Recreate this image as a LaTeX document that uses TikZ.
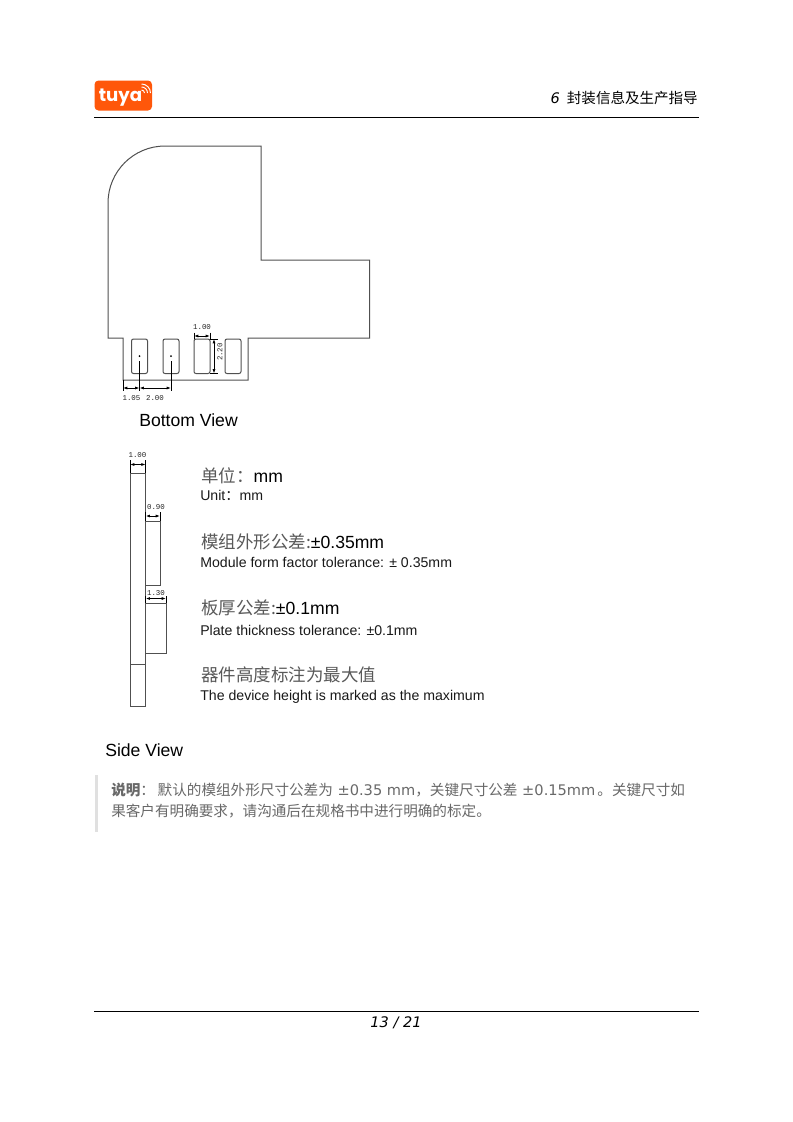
\documentclass[tikz,border=0pt]{standalone}
\usepackage{fontspec}
\setmainfont{DejaVu Sans}
\newfontfamily\cjk{Noto Sans CJK SC}
\newfontfamily\arialfont{Liberation Sans}
\newfontfamily\dimfont{Liberation Mono}
\newfontfamily\logofont{Poppins}
\definecolor{TuyaOrange}{RGB}{255, 87, 10}
\definecolor{NoteGray}{RGB}{105, 105, 105}
\definecolor{BarGray}{RGB}{224, 224, 224}
\definecolor{PartGray}{RGB}{80, 80, 80}
\usetikzlibrary{arrows.meta, positioning}

\begin{document}
\begin{tikzpicture}[x=0.75pt, y=-0.75pt,
        outline/.style={draw=PartGray, line width=0.75pt, line join=miter},
        pad/.style={draw=PartGray, line width=0.75pt, rounded corners=1.5pt},
        dimline/.style={{Latex[length=3.2pt,width=2.2pt]}-{Latex[length=3.2pt,width=2.2pt]}, line width=0.6pt},
        extline/.style={line width=0.6pt},
        dimtext/.style={font=\dimfont\fontsize{5.6}{6}\selectfont, inner sep=0pt, text=black!85},
        viewtext/.style={anchor=base west, inner sep=0pt, font=\arialfont\fontsize{13.2}{15}\selectfont, text=black},
        cntext/.style={anchor=base west, inner sep=0pt, font=\fontsize{13.1}{15}\selectfont, text=black!65},
        entext/.style={anchor=base west, inner sep=0pt, font=\arialfont\fontsize{10.6}{12}\selectfont, text=black!90},
        notetext/.style={anchor=base west, inner sep=0pt, font=\fontsize{10.95}{13}\selectfont, text=NoteGray}
    ]
        \useasboundingbox (0,0) rectangle (793,1122);
        \fill[white] (0,0) rectangle (793,1122);
        % header
        \fill[TuyaOrange, rounded corners=3pt] (94.5,80.5) rectangle (152,110.5);
        \node[anchor=base, inner sep=0pt, text=white, font=\logofont\bfseries\fontsize{13.6}{15}\selectfont] (logo) at (120.5,101) {tuya};
        \foreach \r in {3,6,9}
            \draw[white, line width=0.7pt] (141.5,93-\r) arc[start angle=90, end angle=0, x radius=\r, y radius=-\r];
        \draw[line width=0.75pt] (94,117.5) -- (699,117.5);
        \node[anchor=base east, inner sep=0pt, font=\fontsize{10.9}{13}\selectfont] (chapter) at (698,103) {\itshape 6\,\ {\upshape\cjk 封装信息及生产指导}};
        % bottom view
        \draw[outline] (108,203) .. controls (108,171.5) and (133.5,146) .. (165,146)
            -- (261,146) -- (261,260) -- (369.5,260) -- (369.5,338) -- (248,338)
            -- (248,380) -- (123,380) -- (123,338) -- (108,338) -- cycle;
        \draw[pad] (131.5,339) rectangle (147.5,373.5);
        \draw[pad] (163,339) rectangle (179,373.5);
        \draw[pad] (194,339) rectangle (210,373.5);
        \draw[pad] (225,339) rectangle (241,373.5);
        \coordinate (dotA) at (139.5,356);
        \coordinate (dotB) at (171,356);
        \fill (dotA) circle (1);
        \fill (dotB) circle (1);
        \draw[extline] (139.5,361) -- (139.5,391);
        \draw[extline] (171,361) -- (171,391);
        \draw[extline] (123,380) -- (123,391);
        \draw[dimline] (123,388) -- (139.5,388);
        \draw[dimline] (139.5,388) -- (171,388);
        \node[dimtext] (dimA) at (131.5,398) {1.05};
        \node[dimtext] (dimB) at (155,398) {2.00};
        \draw[extline] (194,332.5) -- (194,339);
        \draw[extline] (210,332.5) -- (210,339);
        \draw[dimline] (194,336) -- (210,336);
        \node[dimtext] (dimC) at (202,327) {1.00};
        \draw[extline] (210,339) -- (218,339);
        \draw[extline] (210,373.5) -- (218,373.5);
        \draw[dimline] (214,339) -- (214,373.5);
        \node[dimtext, rotate=90] (dimD) at (220,352) {2.20};
        \node[viewtext] (bottomview) at (139,426) {Bottom View};
        % side view
        \draw[outline] (130,473) rectangle (145.7,706.5);
        \draw[outline] (130,664) -- (145.7,664);
        \draw[outline] (145.7,521) rectangle (160,585);
        \draw[outline] (145.7,603) rectangle (166,653);
        \draw[extline] (130,460) -- (130,473);
        \draw[extline] (145.7,460) -- (145.7,473);
        \draw[dimline] (130,464.5) -- (145.7,464.5);
        \node[dimtext] (dimE) at (137.5,455) {1.00};
        \draw[extline] (145.7,512) -- (145.7,521);
        \draw[extline] (160,512) -- (160,521);
        \draw[dimline] (145.7,516) -- (160,516);
        \node[dimtext] (dimF) at (156,507) {0.90};
        \draw[extline] (145.7,596) -- (145.7,603);
        \draw[extline] (166,596) -- (166,603);
        \draw[dimline] (145.7,598.5) -- (166,598.5);
        \node[dimtext] (dimG) at (156,593) {1.30};
        \node[cntext] (unitcn) at (201,482) {\cjk 单位：{\arialfont\fontsize{13.2}{15}\selectfont\color{black} mm}};
        \node[entext] (uniten) at (200,500) {Unit{\cjk ：}mm};
        \node[cntext] (formcn) at (201,548) {\cjk 模组外形公差:{\arialfont\fontsize{13.2}{15}\selectfont\color{black} ±0.35mm}};
        \node[entext] (formen) at (200,567) {Module form factor tolerance: ± 0.35mm};
        \node[cntext] (platecn) at (201,614.5) {\cjk 板厚公差:{\arialfont\fontsize{13.2}{15}\selectfont\color{black} ±0.1mm}};
        \node[entext] (plateen) at (200,635) {Plate thickness tolerance: ±0.1mm};
        \node[cntext] (devicecn) at (201,681) {\cjk 器件高度标注为最大值};
        \node[entext] (deviceen) at (200,700) {The device height is marked as the maximum};
        \node[viewtext] (sideview) at (105,756) {Side View};
        % note
        \fill[BarGray] (94.5,775) rectangle (98,832);
        \node[notetext] (noteA) at (111,795) {{\cjk\bfseries 说明}{\cjk ：\hspace{2pt}默认的模组外形尺寸公差为} ±0.35 mm{\cjk ，关键尺寸公差} ±0.15mm{\cjk \hspace{1.5pt}。关键尺寸如}};
        \node[notetext] (noteB) at (111,816.5) {\cjk 果客户有明确要求，请沟通后在规格书中进行明确的标定。};
        % footer
        \draw[line width=0.75pt] (94,1011) -- (699,1011);
        \node[anchor=base, inner sep=0pt, font=\itshape\fontsize{10.9}{13}\selectfont] (pageno) at (396,1027) {13 / 21};
    \end{tikzpicture}
\end{document}
